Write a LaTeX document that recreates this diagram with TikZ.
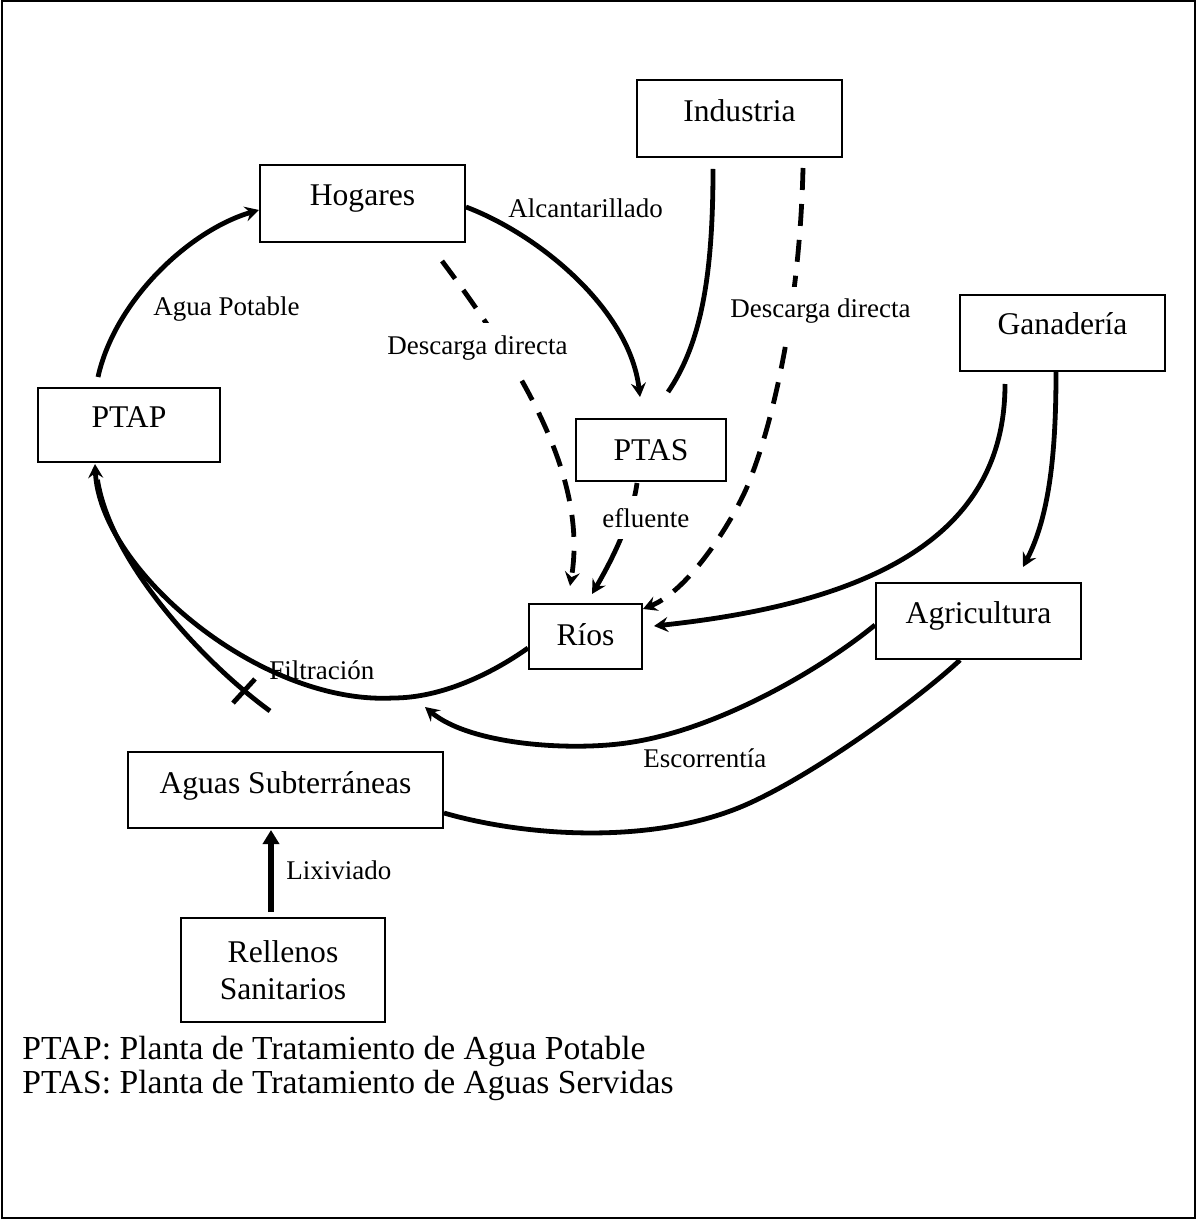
\documentclass[tikz,border=0pt]{standalone}
\usepackage{fontspec}
\setmainfont{Liberation Serif}
\usetikzlibrary{arrows.meta}
\newcommand\boxfont{\fontsize{15.8pt}{18.5pt}\selectfont}
\newcommand\lblfont{\fontsize{13.5pt}{16pt}\selectfont}
\newcommand\legfont{\fontsize{16.8pt}{17pt}\selectfont}
\begin{document}
\begin{tikzpicture}[x=0.5pt,y=-0.5pt,
  frame/.style={line width=1pt},
  boxbase/.style={draw, line width=1pt, font=\boxfont, inner sep=0pt},
  box/.style={boxbase, text height=11pt, text depth=8.5pt},
  flow/.style={line width=2.4pt},
  dashflow/.style={flow, dash pattern=on 11pt off 7pt},
  arr/.style={-{Stealth[length=7pt,width=7.5pt,inset=2.5pt]}},
  lbl/.style={font=\lblfont, inner sep=1pt},
  lblw/.style={font=\lblfont, fill=white, inner xsep=3pt, inner ysep=6pt},
  legend/.style={font=\legfont, inner sep=0pt, align=left}]
\useasboundingbox (0,0) rectangle (1196,1219);
\draw[frame] (1.5,1.5) rectangle (1194.5,1217.5);

% boxes
\node[box, minimum width=102.5pt, minimum height=38.5pt, text depth=7.5pt] (ind) at (739.5,118.5) {Industria};
\node[box, minimum width=102.5pt, minimum height=38.5pt] (hog) at (362.5,203.5) {Hogares};
\node[box, minimum width=91pt, minimum height=37pt, text depth=9pt] (ptap) at (129,425) {PTAP};
\node[box, minimum width=75pt, minimum height=31pt, text depth=1pt] (ptas) at (651,450) {PTAS};
\node[box, minimum width=56.5pt, minimum height=32.5pt, text depth=2.5pt] (rios) at (585.5,636.5) {Ríos};
\node[box, minimum width=102.5pt, minimum height=38pt, text depth=9pt] (gan) at (1062.5,333) {Ganadería};
\node[box, minimum width=102.5pt, minimum height=38pt, text depth=9pt] (agr) at (978.5,621) {Agricultura};
\node[box, minimum width=157.5pt, minimum height=38pt, text depth=8pt] (agu) at (285.5,790) {Aguas Subterráneas};
\node[boxbase, minimum width=102pt, minimum height=52pt, align=center] (rel) at (283,970) {Rellenos\\Sanitarios};

% free ends
\coordinate (esc) at (425,707);
\coordinate (cx1) at (255,679);
\coordinate (cx2) at (233,703);

% connectors
\draw[flow,arr] ([shift={(-31,-10)}]ptap.north) .. controls (115,300) and (190,230) .. ([shift={(0,6.5)}]hog.west);
\draw[flow,arr] ([shift={(0,3.5)}]hog.east) .. controls (540,235) and (630,310) .. ([shift={(-11,-21)}]ptas.north);
\draw[flow] ([shift={(-26.5,11)}]ind.south) .. controls (713,280) and (700,345) .. ([shift={(17,-26)}]ptas.north);
\draw[dashflow,arr] ([shift={(63.5,10)}]ind.south) .. controls (800,300) and (775,420) .. (747,487)
  .. controls (733,520) and (690,590) .. ([shift={(0,6)}]rios.north east);
\draw[dashflow,arr] ([shift={(79.5,18)}]hog.south) .. controls (525,372) and (588,480) .. ([shift={(-15.5,-17)}]rios.north);
\draw[flow,arr] ([shift={(-14,1)}]ptas.south) .. controls (632,520) and (612,560) .. ([shift={(6.5,-9)}]rios.north);
\draw[flow,arr] ([shift={(-57.5,12)}]gan.south) .. controls (1005,520) and (900,600) .. ([shift={(11,-10.5)}]rios.east);
\draw[flow,arr] ([shift={(-6.5,0)}]gan.south) .. controls (1056,450) and (1050,515) .. ([shift={(44.5,-15)}]agr.north);
\draw[flow,arr] ([shift={(0,4)}]agr.west) .. controls (820,670) and (720,728) .. (633,742)
  .. controls (573,752) and (470,745) .. (esc);
\draw[flow] ([shift={(-18.5,0)}]agr.south) .. controls (915,702) and (800,785) .. (733,810)
  .. controls (640,845) and (520,835) .. ([shift={(0,23)}]agu.east);
\draw[flow,arr] ([shift={(0,11.5)}]rios.west) .. controls (490,675) and (440,698) .. (393,698)
  .. controls (260,705) and (100,570) .. ([shift={(-34,1)}]ptap.south);
\draw[flow, shorten >=8pt] ([shift={(-15.5,-40)}]agu.north) .. controls (200,660) and (110,560) .. ([shift={(-34,1)}]ptap.south);
\draw[flow] (cx1) -- (cx2);
\draw[line width=2.6pt, -{Triangle[length=7pt,width=8pt]}] ([shift={(-12,-5)}]rel.north) -- ([shift={(-14.5,1)}]agu.south);

% labels
\node[lbl, anchor=base west] (lap) at (151,315) {Agua Potable};
\node[lbl, anchor=base west] (lal) at (506,218) {Alcantarillado};
\node[lblw, anchor=base east] (ldh) at (574,354) {Descarga directa};
\node[lblw, anchor=base west] (ldi) at (724,318) {Descarga directa};
\node[lblw, anchor=base west] (lef) at (596,527) {efluente};
\node[lbl, anchor=base west] (lfi) at (267,679) {Filtración};
\node[lbl, anchor=base west] (les) at (641,767) {Escorrentía};
\node[lbl, anchor=base west] (llx) at (284,879) {Lixiviado};

% legend
\node[legend, anchor=north west] (leg) at (22,1036) {PTAP: Planta de Tratamiento de Agua Potable\\PTAS: Planta de Tratamiento de Aguas Servidas};
\end{tikzpicture}
\end{document}
